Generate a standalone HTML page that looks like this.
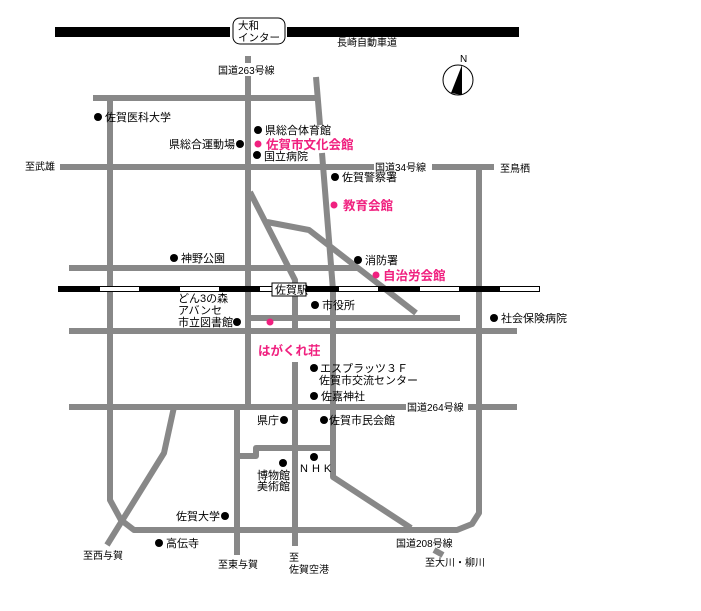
<!DOCTYPE html>
<html><head><meta charset="utf-8"><style>
html,body{margin:0;padding:0;background:#fff;}
svg{display:block;}
text{font-family:"Liberation Sans","Noto Sans CJK JP",sans-serif;font-size:11px;fill:#000;}
.p{fill:#f0207f;font-weight:bold;font-size:12.5px;}
</style></head><body>
<svg width="701" height="611" viewBox="0 0 701 611" xmlns="http://www.w3.org/2000/svg">
<g stroke="#888" stroke-width="6" fill="none" stroke-linecap="butt" stroke-linejoin="round">
<line x1="93" y1="98" x2="317" y2="98"/>
<line x1="248" y1="56" x2="248" y2="407"/>
<polyline points="316,77 320,125"/>
<polyline points="322,153 333,290 333,477 411,528"/>
<polyline points="434,550 443,555"/>
<polyline points="110,98 110,500 121,520 134,530 457,530 472,524 479,513 479,167"/>
<line x1="60" y1="167" x2="494" y2="167"/>
<line x1="69" y1="268" x2="359" y2="268"/>
<polyline points="250,192 295,280 295,330"/>
<line x1="295" y1="362" x2="295" y2="546"/>
<polyline points="267,222 309,230 416,313"/>
<line x1="250" y1="318" x2="460" y2="318"/>
<line x1="69" y1="331" x2="517" y2="331"/>
<line x1="69" y1="407" x2="517" y2="407"/>
<polyline points="174,407 164,453 107,545"/>
<line x1="237" y1="407" x2="237" y2="555"/>
<polyline points="237,456 256,456 256,448 333,448"/>
</g>
<rect x="55" y="27" width="175" height="10" fill="#000"/>
<rect x="287" y="27" width="232" height="10" fill="#000"/>
<rect x="233" y="18" width="52" height="26" rx="7" fill="#fff" stroke="#000" stroke-width="1"/>
<text x="238" y="29" style="font-size:10.5px">大和</text>
<text x="238" y="41" style="font-size:10.5px">インター</text>
<text x="337" y="46" style="font-size:10px">長崎自動車道</text>
<rect x="58" y="286" width="482" height="6" fill="#000"/>
<g fill="#fff"><rect x="100" y="287" width="39" height="4"/><rect x="180" y="287" width="39" height="4"/><rect x="260" y="287" width="12" height="4"/><rect x="339" y="287" width="39" height="4"/><rect x="420" y="287" width="39" height="4"/><rect x="500" y="287" width="39" height="4"/></g>
<rect x="272" y="283" width="34" height="13" fill="#fff" stroke="#000"/>
<text x="275" y="293.5">佐賀駅</text>
<text x="460" y="62" style="font-size:10px">N</text>
<circle cx="458" cy="80" r="15" fill="#fff" stroke="#000"/>
<polygon points="462,65 451,93 462,95" fill="#000"/>
<rect x="216" y="63" width="64" height="13" fill="#fff"/>
<text x="218" y="74" style="font-size:10px">国道263号線</text>
<rect x="374" y="161" width="58" height="12" fill="#fff"/>
<text x="375" y="171" style="font-size:10px">国道34号線</text>
<rect x="406" y="401" width="62" height="12" fill="#fff"/>
<text x="407" y="411" style="font-size:10px">国道264号線</text>
<text x="396" y="547" style="font-size:10px">国道208号線</text>
<text x="25" y="170" style="font-size:10px">至武雄</text>
<text x="500" y="172" style="font-size:10px">至鳥栖</text>
<text x="83" y="559" style="font-size:10px">至西与賀</text>
<text x="218" y="568" style="font-size:10px">至東与賀</text>
<text x="289" y="561" style="font-size:10px">至</text>
<text x="289" y="573" style="font-size:10px">佐賀空港</text>
<text x="425" y="566" style="font-size:10px">至大川・柳川</text>
<g fill="#000">
<circle cx="98" cy="117" r="4"/><circle cx="258" cy="130" r="4"/><circle cx="240" cy="144" r="4"/>
<circle cx="257" cy="155" r="4"/><circle cx="335" cy="177" r="4"/><circle cx="174" cy="258" r="4"/>
<circle cx="358" cy="260" r="4"/><circle cx="237" cy="322" r="4"/><circle cx="315" cy="305" r="4"/>
<circle cx="494" cy="318" r="4"/><circle cx="314" cy="368" r="4"/><circle cx="314" cy="396" r="4"/>
<circle cx="284" cy="420" r="4"/><circle cx="324" cy="420" r="4"/><circle cx="283" cy="463" r="4"/>
<circle cx="314" cy="457" r="4"/><circle cx="225" cy="516" r="4"/><circle cx="159" cy="543" r="4"/>
</g>
<g fill="#f0207f">
<circle cx="258" cy="144" r="3.5"/><circle cx="334" cy="205" r="3.5"/><circle cx="376" cy="275" r="3.5"/><circle cx="270" cy="322" r="3.5"/>
</g>
<text x="105" y="121">佐賀医科大学</text>
<text x="265" y="134">県総合体育館</text>
<text x="169" y="148">県総合運動場</text>
<text class="p" x="266" y="149">佐賀市文化会館</text>
<text x="264" y="160">国立病院</text>
<text x="342" y="181">佐賀警察署</text>
<text class="p" x="343" y="210">教育会館</text>
<text x="181" y="262">神野公園</text>
<text x="365" y="264">消防署</text>
<text class="p" x="383" y="280">自治労会館</text>
<text x="178" y="302">どん3の森</text>
<text x="178" y="314">アバンセ</text>
<text x="178" y="326">市立図書館</text>
<text x="322" y="309">市役所</text>
<text x="501" y="322">社会保険病院</text>
<text class="p" x="258" y="355">はがくれ荘</text>
<text x="320" y="372">エスプラッツ３Ｆ</text>
<text x="319" y="384">佐賀市交流センター</text>
<text x="321" y="400">佐嘉神社</text>
<text x="257" y="424">県庁</text>
<text x="329" y="424">佐賀市民会館</text>
<text x="257" y="479">博物館</text>
<text x="257" y="490">美術館</text>
<text x="300" y="472" style="letter-spacing:4px">NHK</text>
<text x="176" y="520">佐賀大学</text>
<text x="166" y="547">高伝寺</text>
</svg>
</body></html>
